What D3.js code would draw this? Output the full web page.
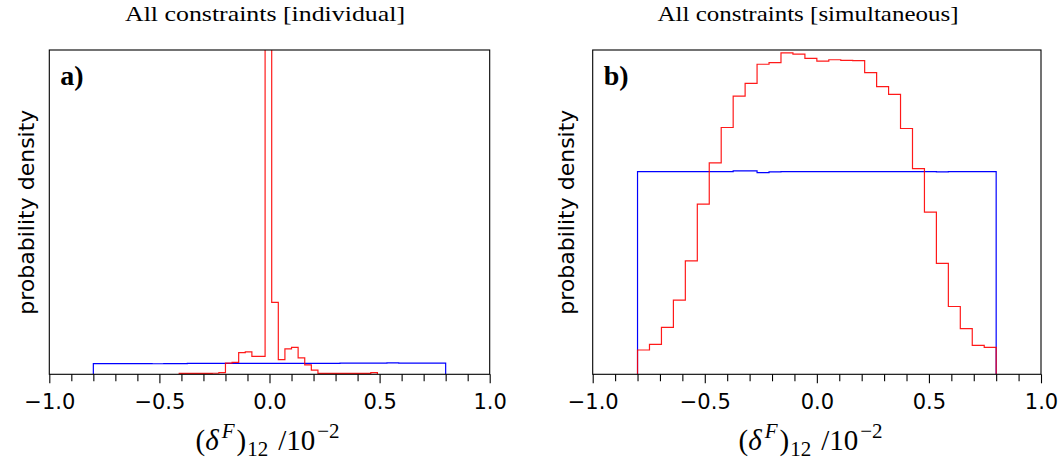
<!DOCTYPE html>
<html>
<head>
<meta charset="utf-8">
<script src="https://cdn.jsdelivr.net/npm/d3@7"></script>
<style>
  body { margin: 0; background: #fff; }
  svg { display: block; }
  .frame { fill: none; stroke: #000; stroke-width: 1.1; }
  .tick-label { font-family: "DejaVu Sans", sans-serif; font-size: 21px; fill: #000; }
  .ylabel { font-family: "DejaVu Sans", sans-serif; font-size: 22px; fill: #000; }
  .title { font-family: "Liberation Serif", serif; font-size: 21px; fill: #000; }
  .xlabel { font-family: "Liberation Serif", serif; font-size: 29px; fill: #000; }
  .panel-label { font-family: "Liberation Serif", serif; font-size: 28px; font-weight: bold; fill: #000; }
</style>
</head>
<body>
<svg id="chart"></svg>
<script>
// x ticks shared by both panels
const majorTicks = [-1.0, -0.5, 0.0, 0.5, 1.0];
const minorTicks = [-0.9, -0.8, -0.7, -0.6, -0.4, -0.3, -0.2, -0.1, 0.1, 0.2, 0.3, 0.4, 0.6, 0.7, 0.8, 0.9];

// bin edges: 30 bins over [-0.8, 0.8]
const uniformEdges = [-0.8, -0.7467, -0.6933, -0.64, -0.5867, -0.5333, -0.48, -0.4267, -0.3733, -0.32,
  -0.2667, -0.2133, -0.16, -0.1067, -0.0533, 0.0, 0.0533, 0.1067, 0.16, 0.2133,
  0.2667, 0.32, 0.3733, 0.4267, 0.48, 0.5333, 0.5867, 0.64, 0.6933, 0.7467, 0.8];

// bin edges for the individual-constraint red histogram
const indRedEdges = [-0.41, -0.38, -0.35, -0.32, -0.29, -0.26, -0.23, -0.2, -0.17, -0.14,
  -0.11, -0.08, -0.05, -0.02, 0.01, 0.04, 0.07, 0.1, 0.13, 0.16,
  0.19, 0.22, 0.25, 0.28, 0.31, 0.34, 0.37, 0.4, 0.43, 0.46, 0.49];

// panel a) densities
const indRed = [0.057, 0.057, 0.057, 0.057, 0.057, 0.06, 0.09, 0.64, 0.68, 1.23,
  1.27, 1.02, 1.02, 19.5, 4.09, 0.83, 1.45, 1.53, 0.93, 0.53,
  0.24, 0.057, 0.057, 0.057, 0.057, 0.057, 0.057, 0.057, 0.057, 0.09];
const indBlue = [0.61, 0.61, 0.61, 0.61, 0.61, 0.6, 0.61, 0.61, 0.62, 0.62,
  0.62, 0.62, 0.62, 0.62, 0.62, 0.62, 0.62, 0.62, 0.62, 0.62,
  0.62, 0.63, 0.63, 0.64, 0.63, 0.65, 0.63, 0.63, 0.64, 0.64];

// panel b) densities
const simRed = [0.075, 0.092, 0.145, 0.229, 0.35, 0.525, 0.652, 0.761, 0.858, 0.897,
  0.956, 0.961, 0.991, 0.987, 0.974, 0.966, 0.97, 0.968, 0.967, 0.93,
  0.887, 0.863, 0.758, 0.634, 0.5, 0.342, 0.209, 0.141, 0.089, 0.083];
const simBlue = [0.625, 0.625, 0.625, 0.625, 0.625, 0.625, 0.625, 0.625, 0.627, 0.627,
  0.622, 0.624, 0.625, 0.625, 0.625, 0.625, 0.625, 0.625, 0.625, 0.625,
  0.625, 0.625, 0.625, 0.625, 0.625, 0.624, 0.625, 0.625, 0.625, 0.625];

const width = 1064;
const height = 465;

const svg = d3.select("#chart").attr("width", width).attr("height", height);

const panels = [
  {
    id: "a", left: 49.3, right: 489.7, top: 50, bottom: 374.3, ymax: 18.43,
    title: "All constraints [individual]", titleX: 265, titleLen: 280,
    ylabelX: 33.5, xlabelX: 267.5,
    blue: { edges: uniformEdges, values: indBlue },
    red: { edges: indRedEdges, values: indRed }
  },
  {
    id: "b", left: 592.7, right: 1041, top: 50, bottom: 374.3, ymax: 1.0,
    title: "All constraints [simultaneous]", titleX: 808, titleLen: 301,
    ylabelX: 573.5, xlabelX: 810.5,
    blue: { edges: uniformEdges, values: simBlue },
    red: { edges: uniformEdges, values: simRed }
  }
];

panels.forEach(drawPanel);

function stepPoints(edges, values) {
  // outline of a step histogram, from baseline back to baseline
  const pts = [[edges[0], 0]];
  values.forEach((v, i) => {
    pts.push([edges[i], v]);
    pts.push([edges[i + 1], v]);
  });
  pts.push([edges[edges.length - 1], 0]);
  return pts;
}

function drawPanel(p) {
  const x = d3.scaleLinear().domain([-1, 1]).range([p.left, p.right]);
  const y = d3.scaleLinear().domain([0, p.ymax]).range([p.bottom, p.top]);

  const g = svg.append("g").attr("class", "panel-" + p.id);

  // clip histograms to the plot area
  const clipId = "clip-" + p.id;
  svg.append("clipPath").attr("id", clipId)
    .append("rect")
    .attr("x", p.left).attr("y", p.top)
    .attr("width", p.right - p.left).attr("height", p.bottom - p.top);

  const line = d3.line().x((d) => x(d[0])).y((d) => y(d[1]));

  const plot = g.append("g").attr("clip-path", `url(#${clipId})`);

  plot.append("path")
    .attr("d", line(stepPoints(p.blue.edges, p.blue.values)))
    .attr("fill", "none")
    .attr("stroke", "#0000ff")
    .attr("stroke-width", 1.2);

  plot.append("path")
    .attr("d", line(stepPoints(p.red.edges, p.red.values)))
    .attr("fill", "none")
    .attr("stroke", "#ff0000")
    .attr("stroke-width", 1.2)
    .attr("stroke-opacity", 0.9);

  // frame
  g.append("rect")
    .attr("class", "frame")
    .attr("x", p.left).attr("y", p.top)
    .attr("width", p.right - p.left).attr("height", p.bottom - p.top);

  // bottom ticks
  const axis = d3.axisBottom(x).tickValues(majorTicks)
    .tickSize(9).tickPadding(11)
    .tickFormat((d) => d3.format(".1f")(d).replace("-", "\u2212"));
  const ax = g.append("g").attr("transform", `translate(0,${p.bottom})`).call(axis);
  ax.select(".domain").remove();
  ax.selectAll(".tick line").attr("stroke", "#000").attr("stroke-width", 1.1);
  ax.selectAll(".tick text").attr("class", "tick-label");
  ax.attr("font-size", null).attr("font-family", null);

  const minorAxis = d3.axisBottom(x).tickValues(minorTicks).tickSize(7).tickFormat("");
  const mx = g.append("g").attr("transform", `translate(0,${p.bottom})`).call(minorAxis);
  mx.select(".domain").remove();
  mx.selectAll(".tick line").attr("stroke", "#000").attr("stroke-width", 1.1);

  // title
  g.append("text")
    .attr("class", "title")
    .attr("x", p.titleX).attr("y", 20.7)
    .attr("text-anchor", "middle")
    .attr("textLength", p.titleLen)
    .attr("lengthAdjust", "spacingAndGlyphs")
    .text(p.title);

  // panel label
  g.append("text")
    .attr("class", "panel-label")
    .attr("x", p.left + 11).attr("y", 85)
    .text(p.id + ")");

  // y label
  g.append("text")
    .attr("class", "ylabel")
    .attr("transform", `translate(${p.ylabelX},${(p.top + p.bottom) / 2}) rotate(-90)`)
    .attr("text-anchor", "middle")
    .text("probability density");

  // x label: (delta^F)_12 /10^-2
  const xl = g.append("text")
    .attr("class", "xlabel")
    .attr("x", p.xlabelX).attr("y", 450)
    .attr("text-anchor", "middle");
  xl.append("tspan").text("(");
  xl.append("tspan").attr("font-style", "italic").text("\u03B4");
  xl.append("tspan").attr("font-style", "italic").attr("font-size", 21)
    .attr("dx", 3).attr("dy", -12).text("F");
  xl.append("tspan").attr("dx", 2).attr("dy", 12).text(")");
  xl.append("tspan").attr("font-size", 21).attr("dx", 1).attr("dy", 6).text("12");
  xl.append("tspan").attr("dx", 10).attr("dy", -6).text("/10");
  xl.append("tspan").attr("font-size", 21).attr("dx", 2).attr("dy", -12).text("\u22122");
}
</script>
</body>
</html>
